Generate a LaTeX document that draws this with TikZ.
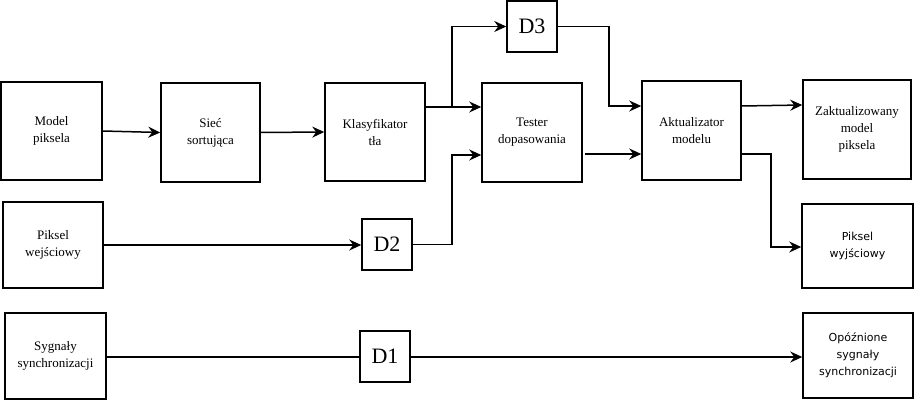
\documentclass[tikz,border=0pt]{standalone}
\usepackage{fontspec}
\setmainfont{Liberation Serif}
\newfontfamily\dvs{DejaVu Sans}
\usetikzlibrary{arrows.meta}
\begin{document}
\begin{tikzpicture}[x=1pt,y=-1pt,
  blk/.style={draw,line width=1.5pt,align=center,inner sep=0pt,font=\fontsize{13}{17}\selectfont},
  sblk/.style={blk,font=\dvs\fontsize{11}{17}\selectfont},
  dblk/.style={draw,line width=1.5pt,inner sep=0pt,minimum width=50pt,minimum height=51pt,font=\fontsize{22}{24}\selectfont},
  ln/.style={line width=1.5pt},
  arr/.style={ln,-{Stealth[length=12pt,width=11pt,inset=4pt]}}]
\useasboundingbox (0,0) rectangle (914,401);
% nodes
\node[blk,minimum width=101pt,minimum height=98pt] (model) at (51.5,131) {Model\\piksela};
\node[blk,minimum width=99pt,minimum height=99pt] (siec) at (210.5,132.5) {Sieć\\sortująca};
\node[blk,minimum width=100pt,minimum height=98pt] (klas) at (375,132) {Klasyfikator\\tła};
\node[blk,minimum width=100pt,minimum height=99pt] (test) at (532,132.5) {Tester\\dopasowania};
\node[dblk] (d3) at (532,26.5) {D3};
\node[blk,minimum width=99pt,minimum height=99pt] (akt) at (691.5,130.5) {Aktualizator\\modelu};
\node[blk,minimum width=108pt,minimum height=99pt] (zakt) at (857,129.5) {Zaktualizowany\\model\\piksela};
\node[sblk,minimum width=111pt,minimum height=84pt] (pwy) at (857.5,246) {Piksel\\wyjściowy};
\node[sblk,minimum width=110pt,minimum height=85pt] (opoz) at (858,355.5) {Opóźnione\\sygnały\\synchronizacji};
\node[blk,minimum width=100pt,minimum height=86pt] (pwe) at (53,245) {Piksel\\wejściowy};
\node[blk,minimum width=101pt,minimum height=86pt] (sync) at (55.5,356) {Sygnały\\synchronizacji};
\node[dblk] (d2) at (387,244.5) {D2};
\node[dblk] (d1) at (385,356.5) {D1};
% connectors
\draw[arr] (model.east) -- (siec.west);
\draw[arr] (siec.east) -- (klas.west);
\coordinate (kout) at (klas.east |- 0,107);
\coordinate (br) at (452,107);
\draw[arr] (kout) -- (test.west |- kout);
\draw[arr] (br) |- (d3.west);
\draw[arr] (d3.east) -| (609,60) |- (akt.west |- 0,106);
\draw[arr] (d2.east) -| (452,200) |- (test.west |- 0,155);
\draw[arr] (test.east |- 0,154) ++(2,0) -- (akt.west |- 0,154);
\draw[arr] (akt.east |- 0,106) -- (zakt.west |- 0,105);
\draw[arr] (akt.east |- 0,154) -| (771,200) |- (pwy.west |- 0,247);
\draw[arr] (pwe.east |- 0,245) -- (d2.west |- 0,245);
\draw[ln] (sync.east |- 0,357) -- (d1.west |- 0,357);
\draw[arr] (d1.east |- 0,357) -- (opoz.west |- 0,357);
\end{tikzpicture}
\end{document}
